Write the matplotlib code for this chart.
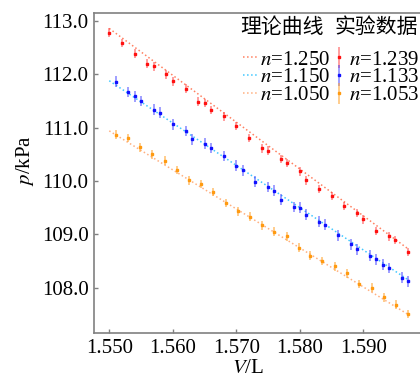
import numpy as np
import matplotlib
matplotlib.use('Agg')
import matplotlib.pyplot as plt

plt.rcParams['font.family'] = ['Liberation Serif', 'Noto Sans CJK SC']
plt.rcParams['mathtext.fontset'] = 'stix'
plt.rcParams['font.size'] = 15

# experimental data (V in L, p in kPa)
V_red = [1.550, 1.552, 1.554, 1.556, 1.557, 1.559, 1.560, 1.562, 1.564, 1.565,
         1.566, 1.568, 1.570, 1.572, 1.574, 1.575, 1.577, 1.578, 1.580, 1.581,
         1.583, 1.585, 1.587, 1.589, 1.590, 1.592, 1.594, 1.595, 1.597]
p_red = [112.78, 112.59, 112.39, 112.20, 112.15, 112.00, 111.87, 111.73, 111.49, 111.46,
         111.33, 111.21, 111.03, 110.81, 110.61, 110.57, 110.41, 110.34, 110.18, 110.01,
         109.85, 109.72, 109.53, 109.40, 109.28, 109.06, 108.96, 108.89, 108.67]

V_blue = [1.551, 1.553, 1.554, 1.555, 1.557, 1.558, 1.560, 1.562, 1.563, 1.565,
          1.566, 1.568, 1.570, 1.571, 1.573, 1.575, 1.576, 1.577, 1.579, 1.580,
          1.581, 1.583, 1.584, 1.586, 1.588, 1.589, 1.591, 1.592, 1.593, 1.594,
          1.596, 1.597]
p_blue = [111.86, 111.67, 111.59, 111.50, 111.34, 111.28, 111.06, 110.94, 110.78, 110.70,
          110.62, 110.47, 110.29, 110.20, 109.99, 109.89, 109.82, 109.65, 109.51, 109.50,
          109.37, 109.24, 109.18, 108.98, 108.81, 108.72, 108.60, 108.53, 108.43, 108.37,
          108.19, 108.12]

V_orange = [1.5510, 1.5530, 1.5548, 1.5568, 1.5587, 1.5606, 1.5626, 1.5644, 1.5663, 1.5683,
            1.5702, 1.5722, 1.5740, 1.5759, 1.5779, 1.5798, 1.5816, 1.5835, 1.5855, 1.5874,
            1.5893, 1.5913, 1.5932, 1.5951, 1.5970]
p_orange = [110.87, 110.81, 110.63, 110.50, 110.38, 110.21, 110.01, 109.94, 109.79, 109.59,
            109.43, 109.33, 109.17, 109.05, 108.96, 108.75, 108.60, 108.50, 108.40, 108.27,
            108.07, 108.00, 107.82, 107.68, 107.51]

err_red, err_blue, err_orange = 0.08, 0.10, 0.08

# theoretical curves (end points)
V_fit = [1.550, 1.597]
p_fit_125 = [112.86, 108.73]
p_fit_115 = [111.88, 108.15]
p_fit_105 = [110.94, 107.50]

fig = plt.figure(figsize=(4.2, 3.78), dpi=100)
ax = fig.add_axes([94 / 420, 1 - 333 / 378, 1 - 94 / 420, 320 / 378])

l1, = ax.plot(V_fit, p_fit_125, ':', color='#ff8060', lw=1.1)
l2, = ax.plot(V_fit, p_fit_115, ':', color='#40c8ff', lw=1.1)
l3, = ax.plot(V_fit, p_fit_105, ':', color='#ffb080', lw=1.1)

kw = dict(fmt='s', ms=1.8, capsize=0, elinewidth=1.2)
e1 = ax.errorbar(V_red, p_red, yerr=err_red, color='#ff1010', ecolor=(1, 0.2, 0.2, 0.55), **kw)
e2 = ax.errorbar(V_blue, p_blue, yerr=err_blue, color='#1010ff', ecolor=(0.2, 0.2, 1, 0.55), **kw)
e3 = ax.errorbar(V_orange, p_orange, yerr=err_orange, color='#ff9a10', ecolor=(1, 0.65, 0.2, 0.65), **kw)

ax.set_xlim(1.5476, 1.5989)
ax.set_ylim(107.15, 113.15)
ax.set_xticks([1.550, 1.560, 1.570, 1.580, 1.590])
ax.set_yticks([108, 109, 110, 111, 112, 113])
ax.xaxis.set_major_formatter(plt.FormatStrFormatter('%.3f'))
ax.yaxis.set_major_formatter(plt.FormatStrFormatter('%.1f'))
ax.tick_params(direction='in', length=3, width=1, color='#808080', pad=4)
for s in ['left', 'top', 'bottom']:
    ax.spines[s].set_color('#808080')
    ax.spines[s].set_linewidth(1.2)
ax.spines['right'].set_visible(False)

ax.set_xlabel('$V$/L', va='center')
ax.set_ylabel('$p$/kPa', va='center')
ax.xaxis.set_label_coords(0.472, -0.112)
ax.yaxis.set_label_coords(-0.212, 0.54)

leg = ax.legend([l1, l2, l3, e1, e2, e3],
                ['$n$=1.250', '$n$=1.150', '$n$=1.050', '$n$=1.239', '$n$=1.133', '$n$=1.053'],
                ncol=2, frameon=False, handlelength=0.7, handletextpad=0.1,
                columnspacing=0.1, labelspacing=-0.08, borderpad=0, borderaxespad=0,
                loc='upper left', bbox_to_anchor=(243 / 420, 1 - 50 / 378),
                bbox_transform=fig.transFigure)
fig.text(240 / 420, 1 - 28 / 378, '理论曲线', va='center', ha='left', fontsize=15)
fig.text(335 / 420, 1 - 28 / 378, '实验数据', va='center', ha='left', fontsize=15)

fig.savefig('out.png', dpi=100)
